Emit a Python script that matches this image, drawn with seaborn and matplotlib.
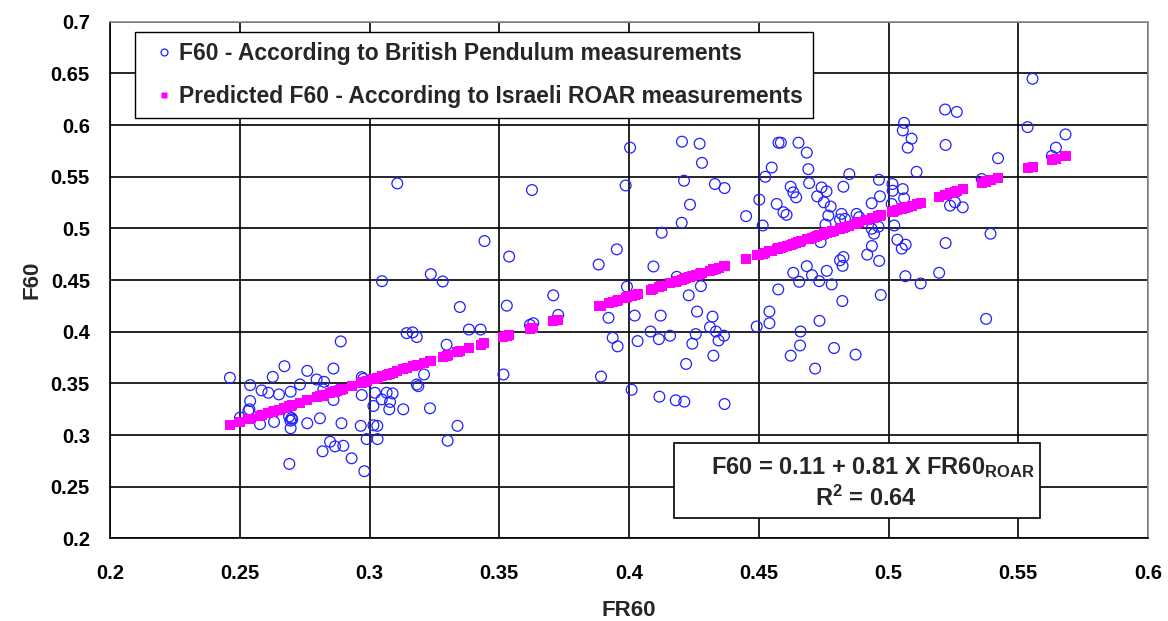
import matplotlib
matplotlib.use("Agg")
import matplotlib.pyplot as plt
from matplotlib.lines import Line2D
from matplotlib.patches import Rectangle
import seaborn as sns
import pandas as pd

# Field measurements: FR60 (ROAR) against F60 (British Pendulum)
fr60 = [
    0.2889, 0.3143, 0.3166, 0.3182, 0.2462, 0.2672, 0.2627, 0.2760, 0.2861, 0.2540,
    0.2584, 0.2610, 0.2651, 0.2696, 0.2732, 0.2796, 0.2825, 0.2822, 0.2873, 0.2861,
    0.2970, 0.2976, 0.2970, 0.3021, 0.3047, 0.3066, 0.3089, 0.3015, 0.3079, 0.3076,
    0.3130, 0.3182, 0.3188, 0.3210, 0.3233, 0.2540, 0.2537, 0.2533, 0.2501, 0.2578,
    0.2632, 0.2690, 0.2700, 0.2702, 0.2695, 0.2696, 0.2760, 0.2809, 0.2892, 0.2966,
    0.3015, 0.3030, 0.2989, 0.3031, 0.2848, 0.2867, 0.2899, 0.2819, 0.2931, 0.2691,
    0.2980,
    0.3107, 0.3626, 0.3443, 0.3538, 0.3236, 0.3282, 0.3048, 0.3708, 0.3348, 0.3529,
    0.3727, 0.3618, 0.3631, 0.3383, 0.3428, 0.3297, 0.3516, 0.3339, 0.3301,
    0.4004, 0.4204, 0.4272, 0.4281, 0.3987, 0.4212, 0.4331, 0.4368, 0.4235, 0.4203,
    0.4126, 0.4451, 0.4502, 0.4525, 0.4550, 0.4576, 0.4515, 0.4569, 0.3953, 0.3883,
    0.4094, 0.4184, 0.3992, 0.4277, 0.4230, 0.3921, 0.4022, 0.4122, 0.4262, 0.4322,
    0.4575, 0.4541, 0.4541, 0.4492, 0.3937, 0.3956, 0.4033, 0.4083, 0.4115, 0.4158,
    0.4257, 0.4244, 0.4312, 0.4335, 0.4345, 0.4366, 0.4325, 0.4220, 0.3892, 0.4010,
    0.4117, 0.4180, 0.4213, 0.4368,
    0.5218, 0.5263, 0.5060, 0.5055, 0.5089, 0.5074, 0.5220, 0.4585, 0.4653, 0.4685,
    0.4691, 0.4694, 0.4849, 0.4826, 0.4623, 0.4633, 0.4644, 0.4742, 0.4761, 0.4725,
    0.4751, 0.4777, 0.4768, 0.4595, 0.4607, 0.4963, 0.4935, 0.4967, 0.5015, 0.5016,
    0.5012, 0.5055, 0.5060, 0.5108, 0.4819, 0.4832, 0.4813, 0.4877, 0.4887, 0.4757,
    0.4738, 0.4935, 0.4944, 0.4961, 0.5022, 0.5034, 0.5051, 0.5066, 0.4936, 0.4918,
    0.4964, 0.4813, 0.4826, 0.4823, 0.4685, 0.4633, 0.4656, 0.4705, 0.4762, 0.4733,
    0.4781, 0.4822, 0.4970, 0.5065, 0.5124, 0.5195, 0.5220, 0.4661, 0.4659, 0.4734,
    0.4623, 0.4790, 0.4873, 0.4717,
    0.5555, 0.5536, 0.5682, 0.5645, 0.5629, 0.5422, 0.5359, 0.5237, 0.5256, 0.5286,
    0.5393, 0.5376,
]
f60 = [
    0.3907, 0.3987, 0.3994, 0.3949, 0.3555, 0.3667, 0.3564, 0.3622, 0.3644, 0.3484,
    0.3433, 0.3410, 0.3394, 0.3420, 0.3490, 0.3538, 0.3516, 0.3442, 0.3426, 0.3340,
    0.3561, 0.3545, 0.3388, 0.3410, 0.3346, 0.3410, 0.3404, 0.3282, 0.3321, 0.3250,
    0.3250, 0.3490, 0.3474, 0.3587, 0.3260, 0.3330, 0.3250, 0.3234, 0.3170, 0.3106,
    0.3128, 0.3180, 0.3165, 0.3150, 0.3140, 0.3067, 0.3115, 0.3163, 0.3115, 0.3090,
    0.3096, 0.3090, 0.2962, 0.2962, 0.2936, 0.2891, 0.2897, 0.2843, 0.2776, 0.2721,
    0.2651,
    0.5436, 0.5372, 0.4878, 0.4728, 0.4558, 0.4487, 0.4490, 0.4353, 0.4240, 0.4253,
    0.4163, 0.4067, 0.4083, 0.4022, 0.4022, 0.3875, 0.3587, 0.3090, 0.2946,
    0.5782, 0.5840, 0.5820, 0.5635, 0.5416, 0.5462, 0.5430, 0.5391, 0.5231, 0.5055,
    0.4959, 0.5119, 0.5279, 0.5500, 0.5590, 0.5830, 0.5029, 0.5237, 0.4798, 0.4651,
    0.4632, 0.4532, 0.4436, 0.4442, 0.4353, 0.4135, 0.4157, 0.4157, 0.4196, 0.4147,
    0.4410, 0.4196, 0.4083, 0.4051, 0.3942, 0.3859, 0.3910, 0.4003, 0.3929, 0.3962,
    0.3978, 0.3885, 0.4045, 0.4003, 0.3916, 0.3962, 0.3769, 0.3689, 0.3567, 0.3439,
    0.3372, 0.3337, 0.3324, 0.3301,
    0.6151, 0.6128, 0.6022, 0.5949, 0.5869, 0.5782, 0.5808, 0.5830, 0.5830, 0.5734,
    0.5574, 0.5439, 0.5526, 0.5404, 0.5404, 0.5349, 0.5301, 0.5397, 0.5359, 0.5311,
    0.5253, 0.5212, 0.5125, 0.5157, 0.5132, 0.5471, 0.5244, 0.5311, 0.5430, 0.5365,
    0.5237, 0.5381, 0.5291, 0.5548, 0.5141, 0.5093, 0.5087, 0.5141, 0.5109, 0.5038,
    0.4868, 0.4997, 0.4949, 0.5017, 0.5029, 0.4891, 0.4805, 0.4843, 0.4830, 0.4747,
    0.4686, 0.4692, 0.4724, 0.4638, 0.4635, 0.4571, 0.4484, 0.4548, 0.4590, 0.4490,
    0.4459, 0.4298, 0.4356, 0.4538, 0.4468, 0.4571, 0.4859, 0.4003, 0.3868, 0.4106,
    0.3769, 0.3843, 0.3779, 0.3644,
    0.6449, 0.5981, 0.5910, 0.5782, 0.5702, 0.5680, 0.5478, 0.5221, 0.5253, 0.5205,
    0.4949, 0.4125,
]

# Regression model stated on the chart
intercept = 0.11
slope = 0.81

x_ticks = [0.2, 0.25, 0.3, 0.35, 0.4, 0.45, 0.5, 0.55, 0.6]
y_ticks = [0.2, 0.25, 0.3, 0.35, 0.4, 0.45, 0.5, 0.55, 0.6, 0.65, 0.7]
x_tick_labels = ["0.2", "0.25", "0.3", "0.35", "0.4", "0.45", "0.5", "0.55", "0.6"]
y_tick_labels = ["0.2", "0.25", "0.3", "0.35", "0.4", "0.45", "0.5", "0.55", "0.6", "0.65", "0.7"]

label_measured = "F60 - According to British Pendulum measurements"
label_predicted = "Predicted F60 - According to Israeli ROAR measurements"

measured = pd.DataFrame({"FR60": fr60, "F60": f60})
predicted = pd.DataFrame({"FR60": fr60})
predicted["F60"] = intercept + slope * predicted["FR60"]

sns.set_style("white")
plt.rcParams["font.family"] = ["Liberation Sans", "DejaVu Sans"]
plt.rcParams["font.weight"] = "bold"
plt.rcParams["mathtext.fontset"] = "custom"
plt.rcParams["mathtext.rm"] = "Liberation Sans:bold"
plt.rcParams["mathtext.it"] = "Liberation Sans:bold"
plt.rcParams["mathtext.bf"] = "Liberation Sans:bold"

BLUE = "#2020FF"
MAGENTA = "#FF00FF"

fig = plt.figure(figsize=(11.68, 6.21), dpi=100)
ax = fig.add_axes([0.0942, 0.1329, 0.8887, 0.832])

sns.scatterplot(data=measured, x="FR60", y="F60", ax=ax, marker="o",
                s=60, facecolor="none", edgecolor=BLUE, linewidth=0.9,
                zorder=3, legend=False)
sns.scatterplot(data=predicted, x="FR60", y="F60", ax=ax, marker="s",
                s=52, color=MAGENTA, edgecolor="none", linewidth=0,
                zorder=4, legend=False)

ax.set_xlim(0.2, 0.6)
ax.set_ylim(0.2, 0.7)
ax.set_xticks(x_ticks)
ax.set_xticklabels(x_tick_labels)
ax.set_yticks(y_ticks)
ax.set_yticklabels(y_tick_labels)
ax.grid(True, color="black", linewidth=1.2, zorder=0)
ax.set_axisbelow(True)

for side in ("left", "bottom"):
    ax.spines[side].set_color("black")
    ax.spines[side].set_linewidth(1.2)
for side in ("top", "right"):
    ax.spines[side].set_color("#8c8c8c")
    ax.spines[side].set_linewidth(1.2)

ax.tick_params(axis="both", direction="inout", length=9, width=1.0,
               colors="black", labelsize=14.5)
ax.tick_params(axis="x", pad=14)
ax.tick_params(axis="y", pad=10)
for lab in ax.get_xticklabels() + ax.get_yticklabels():
    lab.set_fontweight("bold")

ax.set_xlabel("FR60", fontsize=16, fontweight="bold", labelpad=12)
ax.set_ylabel("F60", fontsize=16, fontweight="bold", labelpad=6)

handles = [
    Line2D([], [], linestyle="none", marker="o", markersize=5,
           markerfacecolor="none", markeredgecolor=BLUE, markeredgewidth=0.9),
    Line2D([], [], linestyle="none", marker="s", markersize=5,
           markerfacecolor=MAGENTA, markeredgecolor="none"),
]
leg = ax.legend(handles, [label_measured, label_predicted],
                loc="upper left", bbox_to_anchor=(0.024, 0.98),
                prop={"family": "Liberation Sans", "weight": "bold", "size": 16.5},
                frameon=True, fancybox=False, framealpha=1, edgecolor="black",
                handlelength=1.6, handletextpad=-0.14, labelspacing=0.85,
                borderpad=0.45, borderaxespad=0)
leg.get_frame().set_linewidth(1.0)
leg.set_zorder(6)

# Equation box
ax.add_patch(Rectangle((0.5434, 0.0397), 0.3526, 0.145, transform=ax.transAxes,
                       facecolor="white", edgecolor="black", linewidth=1.2, zorder=6))
ax.text(0.735, 0.137, "F60 = 0.11 + 0.81 X FR60$_{\\mathrm{ROAR}}$",
        transform=ax.transAxes, ha="center", va="center", fontsize=17,
        fontweight="bold", zorder=7)
ax.text(0.728, 0.078, "R$^{2}$ = 0.64", transform=ax.transAxes,
        ha="center", va="center", fontsize=17, fontweight="bold", zorder=7)

fig.savefig("out.png", dpi=100, facecolor="white")
